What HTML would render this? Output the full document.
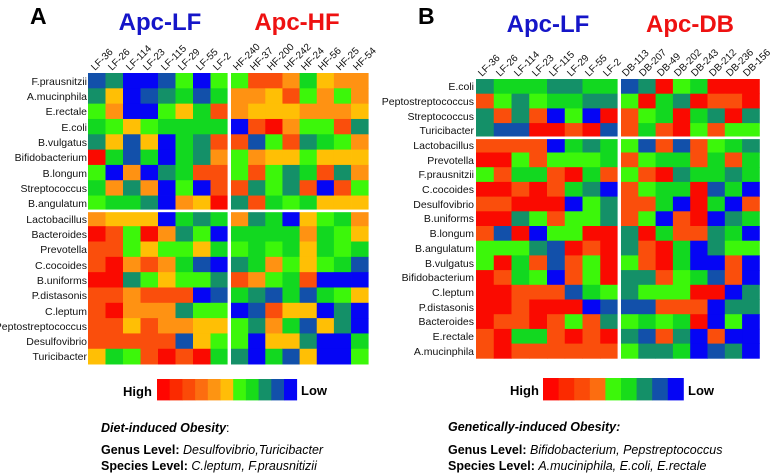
<!DOCTYPE html>
<html><head><meta charset="utf-8"><style>
body{margin:0;background:#fff;width:780px;height:476px;overflow:hidden}
svg{display:block}
.t{font-family:"Liberation Sans",Arial,sans-serif}
.rl{font-family:"Liberation Sans Narrow","Liberation Sans",sans-serif;font-size:10.5px;fill:#111;text-anchor:end}
.cl{font-family:"Liberation Sans Narrow","Liberation Sans",sans-serif;font-size:10px;fill:#111}
</style></head><body>
<svg id="s" width="780" height="476" xmlns="http://www.w3.org/2000/svg">
<g id="cells"></g>
<text x="30" y="24" class="t" font-size="23" font-weight="bold">A</text>
<text x="160" y="30" class="t" font-size="24" font-weight="bold" fill="#1515c8" text-anchor="middle">Apc-LF</text>
<text x="297" y="30" class="t" font-size="24" font-weight="bold" fill="#ee1111" text-anchor="middle">Apc-HF</text>
<text x="418" y="24" class="t" font-size="23" font-weight="bold">B</text>
<text x="548" y="32" class="t" font-size="24" font-weight="bold" fill="#1515c8" text-anchor="middle">Apc-LF</text>
<text x="690" y="32" class="t" font-size="24" font-weight="bold" fill="#ee1111" text-anchor="middle">Apc-DB</text>

<g class="cl">
<text transform="translate(95,71) rotate(-45)">LF-36</text>
<text transform="translate(112,71) rotate(-45)">LF-26</text>
<text transform="translate(130,71) rotate(-45)">LF-114</text>
<text transform="translate(147,71) rotate(-45)">LF-23</text>
<text transform="translate(165,71) rotate(-45)">LF-115</text>
<text transform="translate(182,71) rotate(-45)">LF-29</text>
<text transform="translate(200,71) rotate(-45)">LF-55</text>
<text transform="translate(217,71) rotate(-45)">LF-2</text>
<text transform="translate(237,71) rotate(-45)">HF-240</text>
<text transform="translate(254,71) rotate(-45)">HF-37</text>
<text transform="translate(271,71) rotate(-45)">HF-200</text>
<text transform="translate(288,71) rotate(-45)">HF-242</text>
<text transform="translate(305,71) rotate(-45)">HF-24</text>
<text transform="translate(322,71) rotate(-45)">HF-56</text>
<text transform="translate(340,71) rotate(-45)">HF-25</text>
<text transform="translate(357,71) rotate(-45)">HF-54</text>

<text transform="translate(482,77) rotate(-45)">LF-36</text>
<text transform="translate(500,77) rotate(-45)">LF-26</text>
<text transform="translate(518,77) rotate(-45)">LF-114</text>
<text transform="translate(536,77) rotate(-45)">LF-23</text>
<text transform="translate(553,77) rotate(-45)">LF-115</text>
<text transform="translate(571,77) rotate(-45)">LF-29</text>
<text transform="translate(589,77) rotate(-45)">LF-55</text>
<text transform="translate(607,77) rotate(-45)">LF-2</text>
<text transform="translate(626,77) rotate(-45)">DB-113</text>
<text transform="translate(643,77) rotate(-45)">DB-207</text>
<text transform="translate(661,77) rotate(-45)">DB-49</text>
<text transform="translate(678,77) rotate(-45)">DB-202</text>
<text transform="translate(695,77) rotate(-45)">DB-243</text>
<text transform="translate(713,77) rotate(-45)">DB-212</text>
<text transform="translate(730,77) rotate(-45)">DB-236</text>
<text transform="translate(747,77) rotate(-45)">DB-156</text>
</g>

<g class="rl">
<text x="87" y="85">F.prausnitzii</text>
<text x="87" y="100">A.mucinphila</text>
<text x="87" y="115">E.rectale</text>
<text x="87" y="131">E.coli</text>
<text x="87" y="146">B.vulgatus</text>
<text x="87" y="161">Bifidobacterium</text>
<text x="87" y="177">B.longum</text>
<text x="87" y="192">Streptococcus</text>
<text x="87" y="207">B.angulatum</text>
<text x="87" y="223">Lactobacillus</text>
<text x="87" y="238">Bacteroides</text>
<text x="87" y="253">Prevotella</text>
<text x="87" y="269">C.cocoides</text>
<text x="87" y="284">B.uniforms</text>
<text x="87" y="299">P.distasonis</text>
<text x="87" y="315">C.leptum</text>
<text x="87" y="330">Peptostreptococcus</text>
<text x="87" y="345">Desulfovibrio</text>
<text x="87" y="360">Turicibacter</text>

<text x="474" y="90">E.coli</text>
<text x="474" y="105">Peptostreptococcus</text>
<text x="474" y="120">Streptococcus</text>
<text x="474" y="134">Turicibacter</text>
<text x="474" y="149">Lactobacillus</text>
<text x="474" y="164">Prevotella</text>
<text x="474" y="178">F.prausnitzii</text>
<text x="474" y="193">C.cocoides</text>
<text x="474" y="208">Desulfovibrio</text>
<text x="474" y="222">B.uniforms</text>
<text x="474" y="237">B.longum</text>
<text x="474" y="252">B.angulatum</text>
<text x="474" y="267">B.vulgatus</text>
<text x="474" y="281">Bifidobacterium</text>
<text x="474" y="296">C.leptum</text>
<text x="474" y="311">P.distasonis</text>
<text x="474" y="325">Bacteroides</text>
<text x="474" y="340">E.rectale</text>
<text x="474" y="355">A.mucinphila</text>
</g>

<g id="lg"></g>
<text x="123" y="396" class="t" font-size="13" font-weight="bold">High</text>
<text x="301" y="395" class="t" font-size="13" font-weight="bold">Low</text>
<text x="510" y="395" class="t" font-size="13" font-weight="bold">High</text>
<text x="688" y="395" class="t" font-size="13" font-weight="bold">Low</text>

<text x="101" y="432" class="t" font-size="12.5" font-weight="bold" font-style="italic">Diet-induced  Obesity<tspan font-weight="normal" font-style="normal">:</tspan></text>
<text x="101" y="454" class="t" font-size="12.5"><tspan font-weight="bold">Genus Level: </tspan><tspan font-style="italic">Desulfovibrio,Turicibacter</tspan></text>
<text x="101" y="470" class="t" font-size="12.5"><tspan font-weight="bold">Species Level: </tspan><tspan font-style="italic">C.leptum, F.prausnitizii</tspan></text>

<text x="448" y="431" class="t" font-size="12.5" font-weight="bold" font-style="italic">Genetically-induced  Obesity:</text>
<text x="448" y="454" class="t" font-size="12.5"><tspan font-weight="bold">Genus Level: </tspan><tspan font-style="italic">Bifidobacterium, Pepstreptococcus</tspan></text>
<text x="448" y="470" class="t" font-size="12.5"><tspan font-weight="bold">Species Level:  </tspan><tspan font-style="italic">A.muciniphila, E.coli, E.rectale</tspan></text>
</svg>
<script>
var C={R:"#fa0a00",r:"#fa4e0c",O:"#ff9212",Y:"#ffbf05",G:"#3cf70a",g:"#12d820",T:"#149068",b:"#1250aa",B:"#0505f5"};
var A=["bTBBbGBGGrrOgYOO","TYBbTgbgOOYrGOGO","GOBBGYgrOYYYOOOY","gGYGggggBrROGGrT","TYbYBgTrrbGrTgGO","RgbgBgTOGOYYGYYY","GBOBTgrrGrGTgrTO","gOTOBGBrrTGTrBrG","GggTBOYRTrgGgYYY","OYYYBgTgOTgBYGgO","RrGROTGBggggOgGY","rrGYGGYgGgGgYgGg","rROrOgbBTgOGYGgb","RRTGYGGTrOGgrBBB","rrOrrrBbgTbgbgGY","rROOOTGGBbrYYBTB","rrYrOOYYGTOgbYTB","rrrrrbYGGBYYTBBg","YgGrRrRgTBgbYBBG"];
var B=["TgggTTggbTRGgRRR","rGTGggTTGRgTRrrR","TrTrBGBRrGgRgTRT","TbbRRrRbrgrRGrGG","rrrrBgTgGbrbrGgT","RRGrGGGgrGggrgrg","GrggrRgrGrRTggTg","RRrRrgTBrGggRbgB","rrRRRBGTrrgBRgBr","RRTGrGGTrGBrRBTg","rbRBGGRRTRgrrTgB","GGGTbRrRTrRgBTGG","GRgrbrGRGrRgBBrB","RrgGBrGRTTrGgbrB","RRrrrbgGTGGGRRBT","RRrRRRBbbbrrrBTT","RrrRrGrTGgGgRBGB","rRggrRrRTbrTBrBB","rRrrrrrrGTTgBbTB"];
var g=document.getElementById("cells"),ns="http://www.w3.org/2000/svg";
function rect(x,y,w,h,f){var e=document.createElementNS(ns,"rect");e.setAttribute("x",x);e.setAttribute("y",y);e.setAttribute("width",w+0.4);e.setAttribute("height",h+0.4);e.setAttribute("fill",f);g.appendChild(e);}
function draw(M,x0,x1,w1,w2,y0,rh,sep,bot){
 for(var i=0;i<19;i++)for(var j=0;j<16;j++){var x=j<8?x0+j*w1:x1+(j-8)*w2;rect(x,y0+i*rh,j<8?w1:w2,rh,C[M[i][j]]);}
 rect(x1-3.4,y0-1,2.6,bot-y0+3,"#fff");
 rect(x0-1,y0+sep*rh-1.3,x1+8*w2-x0+2,2.2,"#fff");
}
draw(A,88,231,17.5,17.15,73,15.32,9,364);
draw(B,476,621,17.75,17.3,79,14.7,4,358);
var L1=["#ff0500","#fb2a00","#fb4a08","#fc6d10","#fd9412","#ffbd08","#3cf70a","#18dc1a","#149068","#1250aa","#0505f5"];
for(var k=0;k<11;k++)rect(157+k*12.7,379,12.7,21,L1[k]);
var L2=["#ff0500","#fb2a00","#fb4a08","#fc6d10","#3cf70a","#18dc1a","#149068","#1250aa","#0505f5"];
for(var k=0;k<9;k++)rect(543+k*15.6,378,15.6,22,L2[k]);
</script>
</body></html>
